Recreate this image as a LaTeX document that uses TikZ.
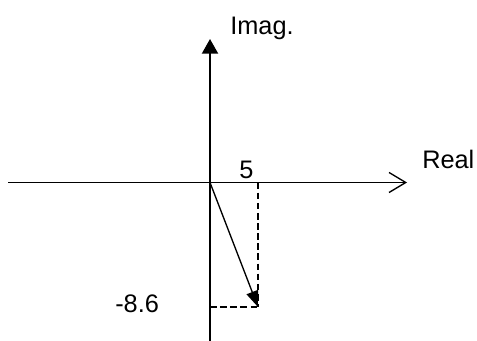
\documentclass[tikz,border=0pt]{standalone}
\usepackage{fontspec}
\setmainfont{Liberation Sans}
\usetikzlibrary{arrows.meta}
\begin{document}
\begin{tikzpicture}[x=0.75pt,y=-0.75pt,
  axisline/.style={line width=1.3pt,black},
  lbl/.style={inner sep=0pt,anchor=base west,font=\fontsize{19pt}{21pt}\selectfont},
  guide/.style={line width=1pt,dash pattern=on 5pt off 2.6pt},
  vec/.style={line width=1pt,-{Triangle[length=12pt,width=9pt]}}]
\useasboundingbox (0,0) rectangle (477,341);
\coordinate (O) at (210,182.5);
\coordinate (xl) at (8,182.5);
\coordinate (xr) at (407,182.5);
\coordinate (yb) at (210,341);
\coordinate (yt) at (210,39);
\coordinate (P) at (258,307);
\coordinate (Px) at (258,182.5);
\coordinate (Py) at (210,307);
\draw[axisline,-{Straight Barb[length=12.5pt,width=15pt,line width=1pt]}] (xl) -- (xr);
\draw[axisline,line width=1.5pt,-{Triangle[length=11pt,width=12pt]}] (yb) -- (yt);
\draw[guide] (Px) -- (P);
\draw[guide] (Py) -- (P);
\draw[vec] (O) -- (P);
\node[lbl] (imag) at (230,35) {Imag.};
\node[lbl] (real) at (422,168.5) {Real};
\node[lbl] (five) at (239,178.5) {5};
\node[lbl] (m86) at (115,312.5) {-8.6};
\end{tikzpicture}
\end{document}
